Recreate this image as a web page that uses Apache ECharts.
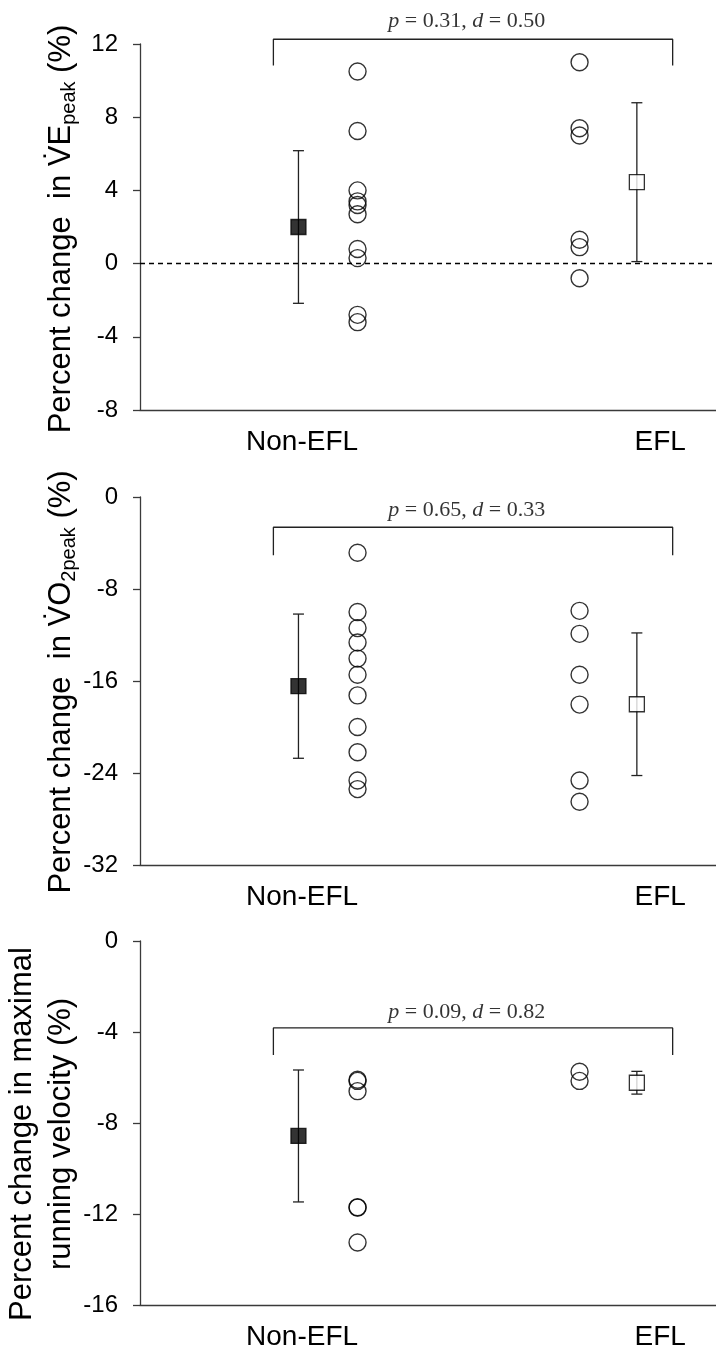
<!DOCTYPE html>
<html>
<head>
<meta charset="utf-8">
<script src="https://cdn.jsdelivr.net/npm/echarts@6/dist/echarts.min.js"></script>
<style>
html,body{margin:0;padding:0;background:#fff;}
#chart{width:716px;height:1351px;}
</style>
</head>
<body>
<div id="chart"></div>
<script>
// ---- categories / positions on the x value scale ----
const groupNames = ['Non-EFL', 'EFL'];
const groupLabelPos = [1, 2];
const xNonMean = 0.99, xNonDots = 1.155, xEflDots = 1.775, xEflMean = 1.935;
const bracketX = [0.92, 2.035];
const xMin = 0.5475, xMax = 2.156;

// ---- Panel 1: VE peak ----
const veNonEfl = [10.5, 7.25, 4.0, 3.4, 3.2, 2.7, 0.8, 0.3, -2.8, -3.2];
const veEfl = [11.0, 7.4, 7.0, 1.3, 0.9, -0.8];
const veMean = [2.0, 4.45];
const veErr = [4.17, 4.34];
const veBracket = [10.82, 12.26, 13.25]; // leg end, bar, text
const veText = '{i|p} = 0.31, {i|d} = 0.50';
const veTicks = {min: -8, max: 12, interval: 4};

// ---- Panel 2: VO2 peak ----
const voNonEfl = [-4.85, -10.0, -11.4, -12.65, -14.05, -15.45, -17.25, -20.0, -22.2, -24.65, -25.4];
const voEfl = [-9.9, -11.9, -15.45, -18.05, -24.65, -26.5];
const voMean = [-16.45, -18.02];
const voErr = [6.27, 6.2];
const voBracket = [-5.06, -2.63, -1.15];
const voText = '{i|p} = 0.65, {i|d} = 0.33';
const voTicks = {min: -32, max: 0, interval: 8};

// ---- Panel 3: maximal running velocity ----
const mvNonEfl = [-6.1, -6.15, -6.6, -11.7, -11.72, -13.25];
const mvEfl = [-5.75, -6.15];
const mvMean = [-8.57, -6.23];
const mvErr = [2.9, 0.5];
const mvBracket = [-5.01, -3.82, -3.12];
const mvText = '{i|p} = 0.09, {i|d} = 0.82';
const mvTicks = {min: -16, max: 0, interval: 4};

const panels = [
  {non: veNonEfl, efl: veEfl, mean: veMean, err: veErr, br: veBracket, txt: veText, t: veTicks, zero: true},
  {non: voNonEfl, efl: voEfl, mean: voMean, err: voErr, br: voBracket, txt: voText, t: voTicks, zero: false},
  {non: mvNonEfl, efl: mvEfl, mean: mvMean, err: mvErr, br: mvBracket, txt: mvText, t: mvTicks, zero: false}
];

const grids = [
  {left: 140, right: 0, top: 44, height: 366},
  {left: 140, right: 0, top: 497, height: 368},
  {left: 140, right: 0, top: 941, height: 364}
];

const axisColor = '#3a3a3a';
const SANS = 'Liberation Sans, Arial, sans-serif';
const SERIF = 'Liberation Serif, Times New Roman, serif';

const xAxes = [], yAxes = [], series = [];
panels.forEach((p, i) => {
  xAxes.push({
    gridIndex: i, type: 'value', min: xMin, max: xMax,
    axisLine: {show: true, onZero: false, lineStyle: {color: axisColor, width: 1.3}},
    axisTick: {show: false},
    splitLine: {show: false},
    axisLabel: {
      show: true, customValues: groupLabelPos, margin: 18,
      fontSize: 28, color: '#000', fontFamily: SANS,
      formatter: v => groupNames[groupLabelPos.indexOf(v)] || ''
    }
  });
  yAxes.push({
    gridIndex: i, type: 'value', min: p.t.min, max: p.t.max, interval: p.t.interval,
    axisLine: {show: true, onZero: false, lineStyle: {color: axisColor, width: 1.3}},
    axisTick: {show: true, length: 7, inside: false, lineStyle: {color: axisColor, width: 1.3}},
    splitLine: {show: false},
    axisLabel: {fontSize: 24, color: '#000', fontFamily: SANS, margin: 22}
  });
  // error bars
  series.push({
    type: 'custom', xAxisIndex: i, yAxisIndex: i, silent: true, z: 2,
    data: [
      [xNonMean, p.mean[0] - p.err[0], p.mean[0] + p.err[0]],
      [xEflMean, p.mean[1] - p.err[1], p.mean[1] + p.err[1]]
    ],
    encode: {x: 0, y: [1, 2]},
    renderItem: (params, api) => {
      const x = api.value(0);
      const top = api.coord([x, api.value(2)]);
      const bot = api.coord([x, api.value(1)]);
      const hw = 5.5;
      const st = {stroke: '#222', lineWidth: 1.3};
      return {type: 'group', children: [
        {type: 'line', shape: {x1: top[0], y1: top[1], x2: bot[0], y2: bot[1]}, style: st},
        {type: 'line', shape: {x1: top[0] - hw, y1: top[1], x2: top[0] + hw, y2: top[1]}, style: st},
        {type: 'line', shape: {x1: bot[0] - hw, y1: bot[1], x2: bot[0] + hw, y2: bot[1]}, style: st}
      ]};
    }
  });
  // mean squares
  series.push({
    type: 'scatter', xAxisIndex: i, yAxisIndex: i, silent: true, z: 3,
    symbol: 'rect', symbolSize: 15,
    data: [
      {value: [xNonMean, p.mean[0]], itemStyle: {color: '#000', borderColor: '#000', borderWidth: 1.3}},
      {value: [xEflMean, p.mean[1]], itemStyle: {color: '#fff', borderColor: '#000', borderWidth: 1.3}}
    ]
  });
  // individual dots
  const dots = p.non.map(v => [xNonDots, v]).concat(p.efl.map(v => [xEflDots, v]));
  const dotSeries = {
    type: 'scatter', xAxisIndex: i, yAxisIndex: i, silent: true, z: 3,
    symbol: 'circle', symbolSize: 17,
    itemStyle: {color: 'rgba(0,0,0,0)', borderColor: '#000', borderWidth: 1.4},
    data: dots
  };
  if (p.zero) {
    dotSeries.markLine = {
      silent: true, symbol: 'none', label: {show: false},
      lineStyle: {type: [5, 4], color: '#000', width: 1.3},
      data: [{yAxis: 0}]
    };
  }
  series.push(dotSeries);
  // bracket
  series.push({
    type: 'line', xAxisIndex: i, yAxisIndex: i, silent: true, clip: false,
    showSymbol: false, symbol: 'none', z: 2,
    lineStyle: {color: '#222', width: 1.3},
    data: [[bracketX[0], p.br[0]], [bracketX[0], p.br[1]], [bracketX[1], p.br[1]], [bracketX[1], p.br[0]]]
  });
  // annotation
  series.push({
    type: 'scatter', xAxisIndex: i, yAxisIndex: i, silent: true, clip: false,
    symbolSize: 0,
    data: [[1.46, p.br[2]]],
    label: {
      show: true, position: 'inside', formatter: p.txt,
      fontSize: 22, fontFamily: SERIF, color: '#000',
      rich: {i: {fontSize: 22, fontFamily: SERIF, fontStyle: 'italic', color: '#000'}}
    }
  });
});

const titleRich = {
  m: {fontSize: 31, fontFamily: SANS, lineHeight: 36, fill: '#000', verticalAlign: 'middle'},
  s: {fontSize: 20, fontFamily: SANS, lineHeight: 20, fill: '#000', verticalAlign: 'bottom'}
};

const option = {
  backgroundColor: '#fff',
  animation: false,
  grid: grids,
  xAxis: xAxes,
  yAxis: yAxes,
  series: series,
  graphic: [
    {type: 'text', x: 61, y: 229, rotation: Math.PI / 2, silent: true,
     style: {text: '{m|Percent change  in V\u0307E}{s|peak}{m| (%)}', rich: titleRich,
             align: 'center', verticalAlign: 'middle', fill: '#000'}},
    {type: 'text', x: 61, y: 682, rotation: Math.PI / 2, silent: true,
     style: {text: '{m|Percent change  in V\u0307O}{s|2peak}{m| (%)}', rich: titleRich,
             align: 'center', verticalAlign: 'middle', fill: '#000'}},
    {type: 'text', x: 42, y: 1134, rotation: Math.PI / 2, silent: true,
     style: {text: 'Percent change in maximal\nrunning velocity (%)', fontSize: 31, fontFamily: SANS,
             lineHeight: 39, align: 'center', verticalAlign: 'middle', fill: '#000'}}
  ]
};

const chart = echarts.init(document.getElementById('chart'), null, {renderer: 'canvas'});
chart.setOption(option);
</script>
</body>
</html>
